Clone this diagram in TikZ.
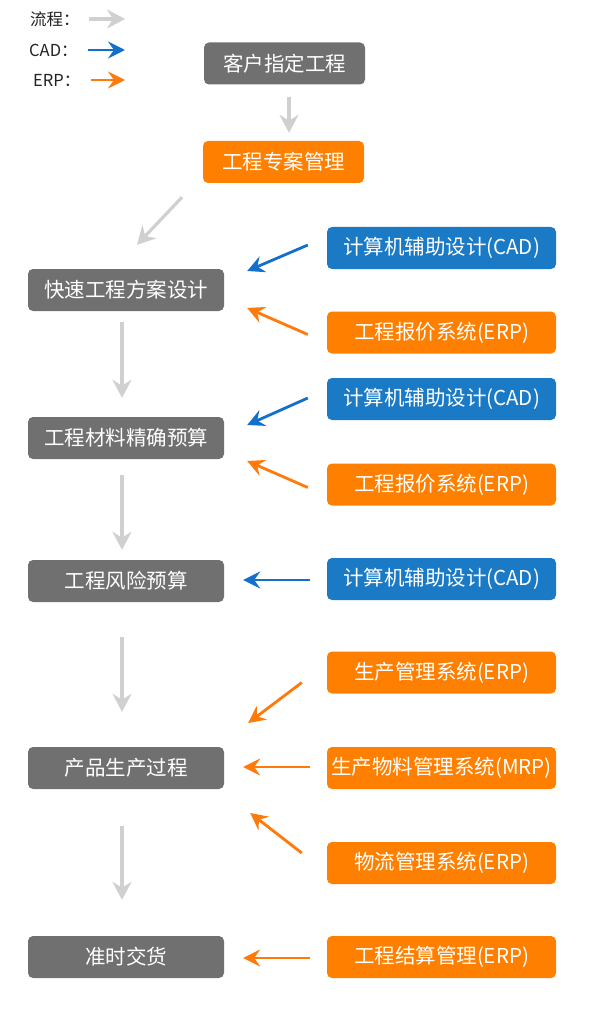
\documentclass[tikz,border=0pt]{standalone}
\usepackage{fontspec}
\setmainfont{Noto Sans CJK SC}
\usepackage{xcolor}
\usetikzlibrary{calc,arrows.meta}
\definecolor{boxGray}{RGB}{112,112,112}
\definecolor{boxOrange}{RGB}{255,128,0}
\definecolor{boxBlue}{RGB}{27,122,198}
\definecolor{arrowGray}{RGB}{208,208,208}
\definecolor{arrowBlue}{RGB}{18,112,204}
\definecolor{arrowOrange}{RGB}{255,122,10}
\definecolor{legText}{RGB}{34,34,34}
\tikzset{
  stepbox/.style={rounded corners=5pt,minimum height=42pt,inner sep=0pt,text=white,font=\fontsize{20.5}{24}\selectfont},
  leftbox/.style={stepbox,fill=boxGray,minimum width=196pt},
  topbox/.style={stepbox,minimum width=161pt},
  sysbox/.style={stepbox,minimum width=229pt},
  legtext/.style={anchor=west,text=legText,font=\fontsize{16.5}{19}\selectfont,inner sep=0pt},
  flowarr/.style={-{Stealth[length=18pt,width=19pt,inset=6pt]},line width=3.2pt,arrowGray},
  cadarr/.style={-{Stealth[length=17pt,width=17pt,inset=6pt]},line width=2.8pt,arrowBlue},
  erparr/.style={-{Stealth[length=17pt,width=17pt,inset=6pt]},line width=2.8pt,arrowOrange}
}

\begin{document}
\begin{tikzpicture}[x=1pt,y=-1pt]
\useasboundingbox[fill=white] (0,0) rectangle (590,1024);
% legend
\node[legtext] (legliu) at (30,19) {流程：};
\node[legtext] (legcad) at (29,50) {CAD：};
\node[legtext] (legerp) at (33,80) {ERP：};
\coordinate (liuend) at (125,19);
\coordinate (cadend) at (125,50);
\coordinate (erpend) at (125,80);
\draw[flowarr] ($(legliu.east)+(9,0)$) -- (liuend);
\draw[cadarr] ($(legcad.east)+(10,0)$) -- (cadend);
\draw[erparr] ($(legerp.east)+(10,0)$) -- (erpend);
% process column
\node[topbox,fill=boxGray] (kehu) at (284.5,63.5) {客户指定工程};
\node[topbox,fill=boxOrange] (zhuanan) at (283.5,162) {工程专案管理};
\node[leftbox] (kuaisu) at (126,290) {快速工程方案设计};
\node[leftbox] (cailiao) at (126,438) {工程材料精确预算};
\node[leftbox] (fengxian) at (126,581) {工程风险预算};
\node[leftbox] (shengchan) at (126,768) {产品生产过程};
\node[leftbox] (jiaohuo) at (126,957) {准时交货};
% systems column
\node[sysbox,fill=boxBlue] (cadA) at (441.5,248) {计算机辅助设计(CAD)};
\node[sysbox,fill=boxOrange] (erpA) at (441.5,332.5) {工程报价系统(ERP)};
\node[sysbox,fill=boxBlue] (cadB) at (441.5,399) {计算机辅助设计(CAD)};
\node[sysbox,fill=boxOrange] (erpB) at (441.5,484.5) {工程报价系统(ERP)};
\node[sysbox,fill=boxBlue] (cadC) at (441.5,579) {计算机辅助设计(CAD)};
\node[sysbox,fill=boxOrange] (erpSc) at (441.5,672.5) {生产管理系统(ERP)};
\node[sysbox,fill=boxOrange] (mrpWl) at (441.5,768) {生产物料管理系统(MRP)};
\node[sysbox,fill=boxOrange] (erpWl) at (441.5,863) {物流管理系统(ERP)};
\node[sysbox,fill=boxOrange] (erpJs) at (441.5,957) {工程结算管理(ERP)};
% flow arrows
\draw[flowarr] ($(kehu.south)+(4.5,12)$) -- ($(zhuanan.north)+(5.5,-8)$);
\draw[flowarr] ($(zhuanan.south)+(-101.5,14)$) -- ($(kuaisu.north)+(11,-24)$);
\draw[flowarr] ($(kuaisu.south)+(-4,11)$) -- ($(cailiao.north)+(-4,-19)$);
\draw[flowarr] ($(cailiao.south)+(-4,16)$) -- ($(fengxian.north)+(-4,-10)$);
\draw[flowarr] ($(fengxian.south)+(-4,35)$) -- ($(shengchan.north)+(-4,-35)$);
\draw[flowarr] ($(shengchan.south)+(-4,37)$) -- ($(jiaohuo.north)+(-4,-36)$);
% CAD / ERP arrows
\draw[cadarr] ($(cadA.west)+(-19,-3)$) -- ($(kuaisu.east)+(23,-19)$);
\draw[erparr] ($(erpA.west)+(-19,2)$) -- ($(kuaisu.east)+(23,18)$);
\draw[cadarr] ($(cadB.west)+(-19,-1)$) -- ($(cailiao.east)+(23,-13)$);
\draw[erparr] ($(erpB.west)+(-19,3)$) -- ($(cailiao.east)+(23,23)$);
\draw[cadarr] ($(cadC.west)+(-17,1)$) -- ($(fengxian.east)+(19,-1)$);
\draw[erparr] ($(erpSc.west)+(-25,10)$) -- ($(shengchan.east)+(24,-45)$);
\draw[erparr] ($(mrpWl.west)+(-17,-1)$) -- ($(shengchan.east)+(19,-1)$);
\draw[erparr] ($(erpWl.west)+(-25,-10)$) -- ($(shengchan.east)+(26,45)$);
\draw[erparr] ($(erpJs.west)+(-17,1)$) -- ($(jiaohuo.east)+(19,1)$);
\end{tikzpicture}
\end{document}
